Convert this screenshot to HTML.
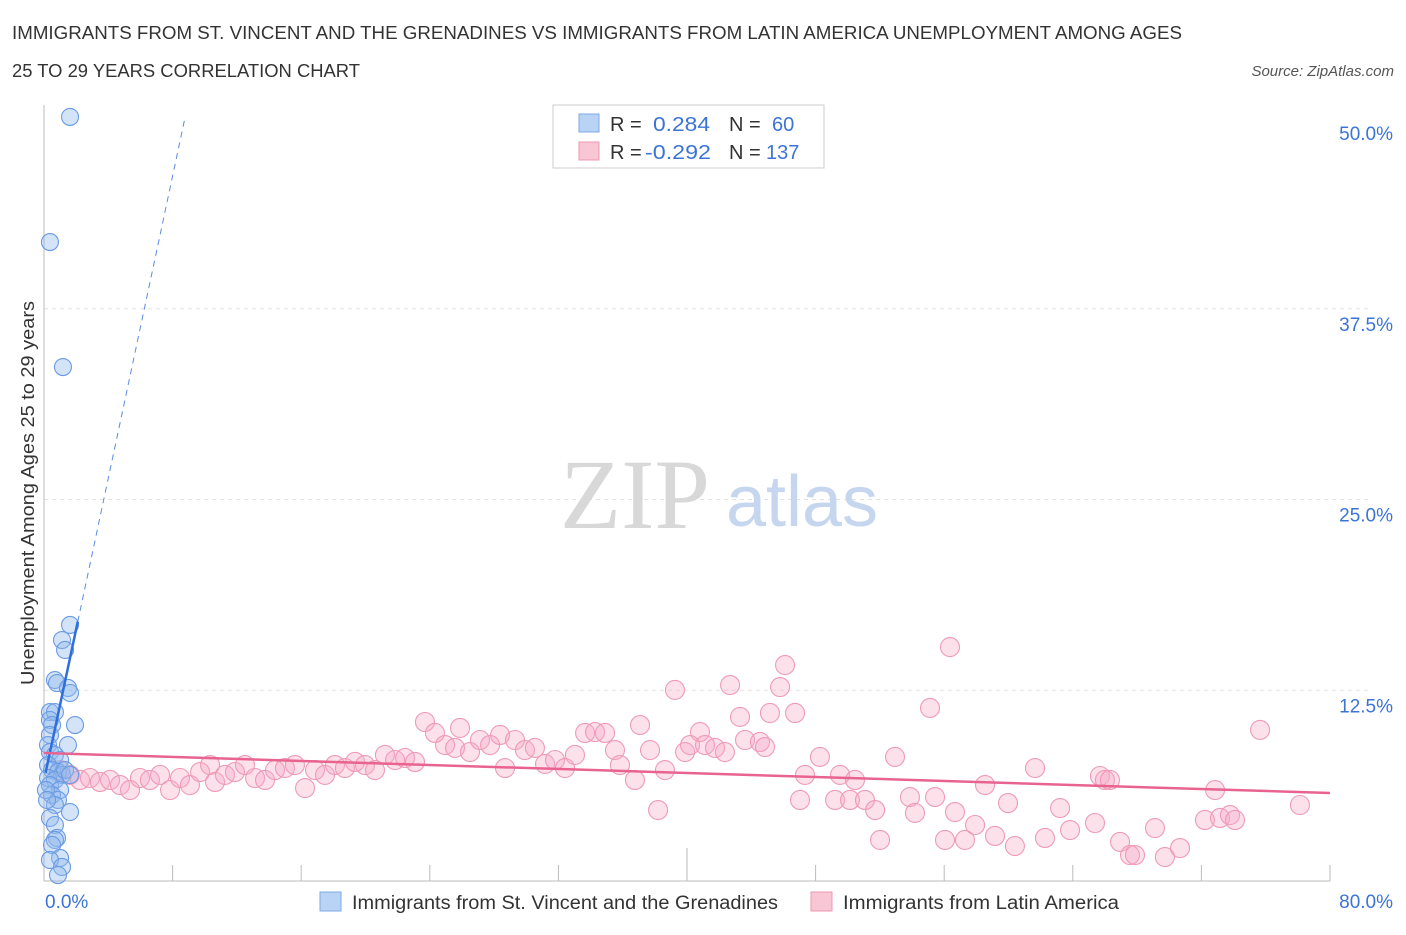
<!DOCTYPE html>
<html><head><meta charset="utf-8">
<style>
body{margin:0;background:#fff;font-family:"Liberation Sans",sans-serif;}
</style></head>
<body>
<svg id="chart" width="1406" height="930" viewBox="0 0 1406 930" xmlns="http://www.w3.org/2000/svg" font-family="Liberation Sans, sans-serif">
<text x="12" y="39" font-size="18" fill="#333" textLength="1170" lengthAdjust="spacingAndGlyphs">IMMIGRANTS FROM ST. VINCENT AND THE GRENADINES VS IMMIGRANTS FROM LATIN AMERICA UNEMPLOYMENT AMONG AGES</text>
<text x="12" y="77" font-size="18" fill="#333" textLength="348" lengthAdjust="spacingAndGlyphs">25 TO 29 YEARS CORRELATION CHART</text>
<text x="1394" y="76" font-size="15" fill="#555" font-style="italic" text-anchor="end">Source: ZipAtlas.com</text>
<g id="grid"></g>
<g>
<text x="635" y="528" font-size="100" fill="#d8d8d8" style="font-family:'Liberation Serif',serif" text-anchor="middle">ZIP</text>
<text x="802" y="526" font-size="72" fill="#c5d6ee" text-anchor="middle">atlas</text>
</g>
<g id="axes"></g>
<g id="pink"></g>
<g id="blue"></g>
<g id="trends"></g>
<text transform="translate(34,493) rotate(-90)" font-size="18" fill="#333" text-anchor="middle" textLength="384" lengthAdjust="spacingAndGlyphs">Unemployment Among Ages 25 to 29 years</text>
<g>
<rect x="553" y="105" width="271" height="63" fill="#fff" stroke="#ccc"/>
<rect x="579" y="114" width="20" height="18" fill="#b9d3f5" stroke="#7fa8e6"/>
<rect x="579" y="142" width="20" height="18" fill="#f9c6d6" stroke="#eb98b2"/>
<text x="610" y="131" font-size="20" fill="#333">R =</text><text x="653" y="131" font-size="20" fill="#3c74d6" textLength="57" lengthAdjust="spacingAndGlyphs">0.284</text>
<text x="729" y="131" font-size="20" fill="#333">N =</text><text x="772" y="131" font-size="20" fill="#3c74d6">60</text>
<text x="610" y="159" font-size="20" fill="#333">R =</text><text x="645" y="159" font-size="20" fill="#3c74d6" textLength="66" lengthAdjust="spacingAndGlyphs">-0.292</text>
<text x="729" y="159" font-size="20" fill="#333">N =</text><text x="766" y="159" font-size="20" fill="#3c74d6">137</text>
</g>
<g>
<rect x="320" y="892" width="21" height="19" fill="#b9d3f5" stroke="#7fa8e6"/>
<text x="352" y="909" font-size="19" fill="#333" textLength="426" lengthAdjust="spacingAndGlyphs">Immigrants from St. Vincent and the Grenadines</text>
<rect x="811" y="892" width="21" height="19" fill="#f9c6d6" stroke="#eb98b2"/>
<text x="843" y="909" font-size="19" fill="#333" textLength="276" lengthAdjust="spacingAndGlyphs">Immigrants from Latin America</text>
</g>
</svg>
<script>
const yTicks=[12.5,25,37.5,50];
const yTickLabels=["12.5%","25.0%","37.5%","50.0%"];
const xTickLabels=["0.0%","80.0%"];
const blueX=[1.62,0.37,1.18,1.62,1.12,1.31,0.68,0.81,1.49,1.62,0.37,0.68,0.37,0.5,1.93,0.37,0.25,1.49,0.37,0.68,1.0,0.25,0.5,0.87,1.12,0.25,0.68,0.37,1.0,0.5,0.87,0.68,1.62,0.37,0.68,0.81,0.68,0.5,1.0,0.37,1.12,0.87,1.31,1.62,0.12,0.19];
const blueY=[50.07,41.87,33.68,16.78,15.79,15.14,13.17,12.97,12.65,12.32,11.07,11.07,10.55,10.22,10.22,9.57,8.91,8.91,8.45,8.26,7.93,7.6,7.27,7.14,6.95,6.75,6.62,6.29,5.96,5.64,5.31,4.98,4.52,4.13,3.67,2.82,2.69,2.36,1.51,1.38,0.92,0.39,7.27,6.95,5.96,5.31];
const pinkX=[1.0,1.62,2.24,2.86,3.48,4.11,4.73,5.35,5.97,6.59,7.22,7.84,8.46,9.08,9.71,10.33,10.64,11.26,11.88,12.5,13.13,13.75,14.37,14.99,15.61,16.24,16.86,17.48,18.1,18.72,19.35,19.97,20.59,21.21,21.84,22.46,23.08,23.7,24.32,24.95,25.57,25.88,26.5,27.12,27.75,28.37,28.68,29.3,29.92,30.54,31.17,31.79,32.41,33.03,33.66,34.28,34.9,35.52,35.83,36.76,37.08,37.7,38.2,38.63,39.25,39.88,40.19,40.81,41.12,41.74,42.36,42.68,43.3,43.61,44.54,44.85,45.16,45.79,46.1,46.72,47.03,47.34,48.27,49.21,49.52,50.14,50.45,51.07,51.7,52.01,52.94,53.87,54.18,55.12,55.43,56.05,56.36,56.67,57.29,57.92,58.54,59.16,59.97,60.4,61.65,62.27,63.21,63.83,65.38,65.69,66.0,66.31,66.94,67.56,67.87,69.11,69.73,70.67,72.22,72.85,73.16,73.78,74.09,75.65,78.13];
const pinkY=[7.27,6.95,6.62,6.75,6.49,6.62,6.29,5.96,6.75,6.62,6.95,5.96,6.75,6.29,7.14,7.6,6.49,6.95,7.14,7.6,6.75,6.62,7.27,7.4,7.6,6.09,7.27,6.95,7.6,7.4,7.8,7.6,7.27,8.26,7.93,8.06,7.8,10.42,9.7,8.91,8.72,10.03,8.45,9.24,8.91,9.57,7.4,9.24,8.58,8.72,7.67,7.93,7.4,8.26,9.7,9.76,9.7,8.58,7.6,6.62,10.22,8.58,4.65,7.27,12.52,8.45,8.91,9.76,8.91,8.72,8.45,12.84,10.75,9.24,9.11,8.78,11.01,12.71,14.15,11.01,5.31,6.95,8.13,5.31,6.95,5.31,6.62,5.31,4.65,2.69,8.13,5.5,4.46,11.34,5.5,2.69,15.33,4.52,2.69,3.67,6.29,2.95,5.11,2.29,7.4,2.82,4.78,3.34,3.8,6.88,6.62,6.62,2.56,1.7,1.7,3.47,1.57,2.16,4.0,5.96,4.13,4.32,4.0,9.9,4.98];
const blueTrend=[6.6,4.95];
const pinkTrend=[8.39,-0.0328];
const NS='http://www.w3.org/2000/svg';
const X0=44,X1=1330,Y0=881,Y1=118;
function sx(v){return X0+(v/80)*(X1-X0);}
function sy(v){return Y0-(v/50)*(Y0-Y1);}
function mk(tag,attrs,parent){const e=document.createElementNS(NS,tag);for(const k in attrs)e.setAttribute(k,attrs[k]);parent.appendChild(e);return e;}
const grid=document.getElementById('grid');
yTicks.forEach((t,i)=>{
  if(t<50){
    const l=mk('line',{x1:X0,x2:X1+40,y1:sy(t),y2:sy(t),stroke:'#e2e2e2','stroke-dasharray':'4,4'},grid);
    
    
  }
  const tx=mk('text',{x:1393,y:sy(t)+22,'font-size':19,fill:'#3c74d6','text-anchor':'end'},grid);
  tx.textContent=yTickLabels[i];
  
  
});
const axes=document.getElementById('axes');
let a=mk('line',{x1:X0,x2:X0,y1:105,y2:Y0,stroke:'#bbb'},axes);


a=mk('line',{x1:X0,x2:X1,y1:Y0,y2:Y0,stroke:'#bbb'},axes);


for(let i=1;i<=10;i++){
  const t=mk('line',{x1:sx(i*8),x2:sx(i*8),y1:i==5?848:865,y2:Y0,stroke:'#bbb'},axes);
  
  
}
[[0,'start',45],[80,'end',1393]].forEach((d,i)=>{
  const t=mk('text',{x:d[2],y:908,'font-size':19,fill:'#3c74d6','text-anchor':d[1]},axes);
  t.textContent=xTickLabels[i];
  
  
});
const pg=document.getElementById('pink');
pinkX.forEach((x,i)=>{
  const c=mk('circle',{cx:sx(x),cy:sy(pinkY[i]),r:9.5,fill:'rgba(245,170,198,0.35)',stroke:'#ee9ab6','stroke-width':1.1},pg);
  
  
});
const bg=document.getElementById('blue');
blueX.forEach((x,i)=>{
  const c=mk('circle',{cx:sx(x),cy:sy(blueY[i]),r:8.5,fill:'rgba(145,185,238,0.4)',stroke:'#6b9be3','stroke-width':1.1},bg);
  
  
});
const tg=document.getElementById('trends');
let l=mk('line',{x1:sx(2.1),y1:sy(blueTrend[0]+blueTrend[1]*2.1),x2:sx(8.77),y2:sy(blueTrend[0]+blueTrend[1]*8.77),stroke:'#5a8ce0','stroke-width':1,'stroke-dasharray':'6,5'},tg);


l=mk('line',{x1:sx(0.1),y1:sy(blueTrend[0]+blueTrend[1]*0.1),x2:sx(2.1),y2:sy(blueTrend[0]+blueTrend[1]*2.1),stroke:'#2f6fdc','stroke-width':2.5},tg);


l=mk('line',{x1:sx(0),y1:sy(pinkTrend[0]),x2:sx(80),y2:sy(pinkTrend[0]+pinkTrend[1]*80),stroke:'#e8648f','stroke-width':2.5},tg);


</script>
</body></html>
